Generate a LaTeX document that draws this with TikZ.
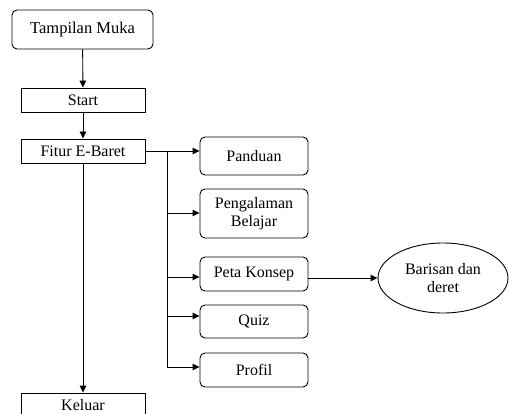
\documentclass[tikz,border=0pt]{standalone}
\usepackage{fontspec}
\setmainfont{Liberation Serif}
\usetikzlibrary{arrows.meta,shapes.geometric}
\begin{document}
\begin{tikzpicture}[x=1pt,y=-1pt,
  txt/.style={font=\fontsize{16}{17.5}\selectfont, align=center, inner sep=0pt, line width=0.9pt},
  rbox/.style={txt, draw, rounded corners=5pt},
  sbox/.style={txt, draw},
  ebox/.style={txt, draw, ellipse},
  arr/.style={-{Triangle[length=7pt,width=6.5pt]}, line width=0.9pt},
  ln/.style={line width=0.9pt}]
\useasboundingbox (0,0) rectangle (509,414);
\clip (0,0) rectangle (509,414);
\node[rbox, minimum width=141pt, minimum height=39pt, font=\fontsize{16.5}{18}\selectfont] (tm) at (82.5,29.5) {Tampilan Muka};
\node[sbox, minimum width=124pt, minimum height=24pt] (st) at (83,100) {Start};
\node[sbox, minimum width=124pt, minimum height=24pt] (fe) at (83,151) {Fitur E-Baret};
\node[sbox, minimum width=124pt, minimum height=24pt] (kl) at (83,405) {Keluar};
\node[rbox, minimum width=108pt, minimum height=38pt] (pd) at (254,156) {Panduan};
\node[rbox, minimum width=108pt, minimum height=49pt] (pb) at (254,213.5) {Pengalaman\\Belajar};
\node[rbox, minimum width=108pt, minimum height=34pt] (pk) at (254,274) {Peta Konsep};
\node[rbox, minimum width=108pt, minimum height=33pt] (qz) at (254,321.5) {Quiz};
\node[rbox, minimum width=108pt, minimum height=34pt] (pf) at (254,370) {Profil};
\node[ebox, minimum width=130pt, minimum height=70pt] (bd) at (443,278) {Barisan dan\\deret};
\coordinate (b1) at (167,151);
\coordinate (b2) at (167,213);
\coordinate (b3) at (167,277);
\coordinate (b4) at (167,316);
\coordinate (b5) at (167,367);
\draw[arr] (tm) -- (st);
\draw[arr] (st) -- (fe);
\draw[arr] (fe) -- (kl);
\draw[arr] (fe.east |- b1) -- (pd.west |- b1);
\draw[ln] (b1) -- (b5);
\draw[arr] (b2) -- (pb.west |- b2);
\draw[arr] (b3) -- (pk.west |- b3);
\draw[arr] (b4) -- (qz.west |- b4);
\draw[arr] (b5) -- (pf.west |- b5);
\draw[arr] (pk.east |- bd.west) -- (bd.west);
\end{tikzpicture}
\end{document}
